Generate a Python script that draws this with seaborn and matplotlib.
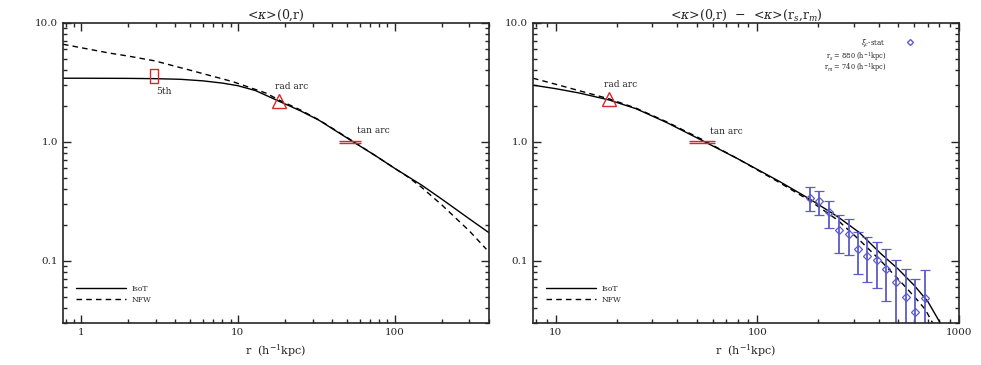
import matplotlib
matplotlib.use("Agg")
import matplotlib.pyplot as plt
import numpy as np
import pandas as pd
import seaborn as sns
from matplotlib.path import Path
from matplotlib.lines import Line2D
from matplotlib.ticker import NullFormatter

# Left panel: <kappa>(0,r)
left_iso_r = [0.77, 1, 2, 3, 4.3, 6, 8, 10, 13, 18.3, 25, 33, 52, 75, 100, 148, 200, 300, 403]
left_iso_k = [3.43, 3.43, 3.42, 3.40, 3.36, 3.26, 3.12, 2.97, 2.7, 2.2, 1.83, 1.52, 1.04, 0.77, 0.60, 0.435, 0.33, 0.225, 0.171]
left_nfw_r = [0.77, 1, 1.5, 2, 2.96, 5, 9.3, 15.3, 18.3, 25, 33, 52, 75, 100, 120, 148, 200, 300, 385]
left_nfw_k = [6.62, 6.2, 5.6, 5.27, 4.8, 4.0, 3.21, 2.56, 2.25, 1.86, 1.53, 1.05, 0.77, 0.60, 0.514, 0.417, 0.295, 0.178, 0.125]

# Right panel: <kappa>(0,r) - <kappa>(r_s,r_m)
right_iso_r = [7.7, 10, 13, 18.4, 25, 35.6, 53, 80, 130, 182, 250, 320, 409, 500, 600, 700, 807]
right_iso_k = [3.0, 2.8, 2.58, 2.25, 1.9, 1.45, 1.03, 0.72, 0.46, 0.33, 0.235, 0.173, 0.115, 0.085, 0.062, 0.0455, 0.03]
right_nfw_r = [7.7, 10, 13, 18.4, 25, 35.6, 53, 80, 130, 182, 250, 320, 409, 500, 600, 680, 740]
right_nfw_k = [3.43, 3.05, 2.7, 2.3, 1.92, 1.47, 1.05, 0.72, 0.45, 0.32, 0.22, 0.15, 0.10, 0.07, 0.05, 0.039, 0.03]

# xi_c statistic points with error bars
stat_r = [182, 203, 227, 253, 284, 317, 351, 391, 435, 486, 543, 607, 678]
stat_k = [0.338, 0.319, 0.258, 0.182, 0.169, 0.126, 0.110, 0.102, 0.0857, 0.0662, 0.050, 0.037, 0.049]
stat_hi = [0.416, 0.385, 0.321, 0.244, 0.225, 0.174, 0.158, 0.145, 0.125, 0.102, 0.085, 0.070, 0.083]
stat_lo = [0.26, 0.244, 0.187, 0.117, 0.112, 0.0773, 0.0658, 0.0585, 0.046, 0.01, 0.01, 0.01, 0.01]

# arc constraints
fifth_r, fifth_k = 2.94, 3.59
rad_r, rad_k = 18.3, 2.22
tan_r, tan_k = 52, 1.0
rad_r2, rad_k2 = 18.4, 2.28
tan_r2, tan_k2 = 53, 1.0

sns.set_style("ticks")
plt.rcParams["font.family"] = ["DejaVu Serif", "DejaVu Sans"]
plt.rcParams["mathtext.fontset"] = "dejavuserif"
plt.rcParams["xtick.direction"] = "in"
plt.rcParams["ytick.direction"] = "in"

red = "#d42a2a"
blue = "#5c5cc8"

box = Path([(-0.28, -0.5), (0.28, -0.5), (0.28, 0.5), (-0.28, 0.5), (-0.28, -0.5)],
           [Path.MOVETO, Path.LINETO, Path.LINETO, Path.LINETO, Path.CLOSEPOLY])
double_bar = Path([(-1, 0.06), (1, 0.06), (-1, -0.06), (1, -0.06)],
                  [Path.MOVETO, Path.LINETO, Path.MOVETO, Path.LINETO])

fig = plt.figure(figsize=(9.81, 3.65), dpi=100)
ax1 = fig.add_axes([0.0642, 0.1151, 0.4343, 0.822])
ax2 = fig.add_axes([0.5433, 0.1151, 0.4343, 0.822])


def curves(iso_r, iso_k, nfw_r, nfw_k):
    d1 = pd.DataFrame({"r": iso_r, "kappa": iso_k, "model": "IsoT"})
    d2 = pd.DataFrame({"r": nfw_r, "kappa": nfw_k, "model": "NFW"})
    return pd.concat([d1, d2], ignore_index=True)


for ax, df in [(ax1, curves(left_iso_r, left_iso_k, left_nfw_r, left_nfw_k)),
               (ax2, curves(right_iso_r, right_iso_k, right_nfw_r, right_nfw_k))]:
    sns.lineplot(data=df, x="r", y="kappa", style="model", color="black", lw=1.0,
                 dashes={"IsoT": "", "NFW": (4, 3)}, errorbar=None, ax=ax, legend=False)
    ax.set_xscale("log")
    ax.set_yscale("log")
    ax.set_ylim(0.03, 10)
    ax.set_yticks([0.1, 1, 10], labels=["0.1", "1.0", "10.0"])
    ax.yaxis.set_minor_formatter(NullFormatter())
    ax.xaxis.set_minor_formatter(NullFormatter())
    ax.tick_params(which="both", top=True, right=True, labelsize=7.5, width=1.0)
    ax.tick_params(which="major", length=6)
    ax.tick_params(which="minor", length=3)
    for s in ax.spines.values():
        s.set_linewidth(1.2)
    ax.set_xlabel("r  (h$^{-1}$kpc)", fontsize=8, labelpad=4)
    ax.set_ylabel("")

ax1.set_xlim(0.77, 400)
ax1.set_xticks([1, 10, 100], labels=["1", "10", "100"])
ax2.set_xlim(7.7, 1000)
ax2.set_xticks([10, 100, 1000], labels=["10", "100", "1000"])

ax1.set_title(r"<$\kappa$>(0,r)", fontsize=9, pad=3)
ax2.set_title(r"<$\kappa$>(0,r)  $-$  <$\kappa$>(r$_s$,r$_m$)", fontsize=9, pad=3)

# markers for arcs, left panel
ax1.plot([fifth_r], [fifth_k], marker=box, ms=9.6, mfc="none", mec=red, mew=1.0, ls="none")
ax1.annotate("5th", (fifth_r, fifth_k), xytext=(7, -11.5), textcoords="offset points",
             ha="center", va="center", fontsize=6.5)
ax1.plot([rad_r], [rad_k], marker="^", ms=10, mfc="none", mec=red, mew=1.0, ls="none")
ax1.annotate("rad arc", (rad_r, rad_k), xytext=(9, 10.5), textcoords="offset points",
             ha="center", va="center", fontsize=6.5)
ax1.plot([tan_r], [tan_k], marker=double_bar, ms=16, mec=red, mew=1.0, ls="none")
ax1.annotate("tan arc", (tan_r, tan_k), xytext=(16.5, 8.5), textcoords="offset points",
             ha="center", va="center", fontsize=6.5)

# right panel
ax2.plot([rad_r2], [rad_k2], marker="^", ms=10, mfc="none", mec=red, mew=1.0, ls="none")
ax2.annotate("rad arc", (rad_r2, rad_k2), xytext=(8, 10.5), textcoords="offset points",
             ha="center", va="center", fontsize=6.5)
ax2.plot([tan_r2], [tan_k2], marker=double_bar, ms=19, mec=red, mew=1.0, ls="none")
ax2.annotate("tan arc", (tan_r2, tan_k2), xytext=(17.5, 7.5), textcoords="offset points",
             ha="center", va="center", fontsize=6.5)

k = np.array(stat_k)
yerr = [k - np.array(stat_lo), np.array(stat_hi) - k]
ax2.errorbar(stat_r, stat_k, yerr=yerr, fmt="D", ms=4, mfc="none", mec=blue, mew=0.9,
             ecolor=blue, elinewidth=1.3, capsize=3.5, capthick=1.0)

# legends
line_handles = [Line2D([], [], color="black", lw=1.0),
                Line2D([], [], color="black", lw=1.0, ls=(0, (4, 3)))]
ax1.legend(line_handles, ["IsoT", "NFW"], loc="lower left", frameon=False, fontsize=5.5,
           handlelength=6.5, bbox_to_anchor=(0.015, 0.04), labelspacing=0.4)
leg2 = ax2.legend(line_handles, ["IsoT", "NFW"], loc="lower left", frameon=False, fontsize=5.5,
                  handlelength=6.5, bbox_to_anchor=(0.015, 0.04), labelspacing=0.4)
ax2.add_artist(leg2)

ax2.legend([Line2D([], [], marker="D", ms=3, mfc="none", mec=blue, ls="none")],
           [r"$\xi_c$-stat"], loc="upper right", frameon=False, fontsize=5,
           markerfirst=False, bbox_to_anchor=(0.915, 0.975), handletextpad=2.5)
ax2.text(0.83, 0.889, "r$_s$ = 880 (h$^{-1}$kpc)", transform=ax2.transAxes,
         ha="right", va="center", fontsize=4.8)
ax2.text(0.83, 0.851, "r$_m$ = 740 (h$^{-1}$kpc)", transform=ax2.transAxes,
         ha="right", va="center", fontsize=4.8)

fig.savefig("out.png", dpi=100)
